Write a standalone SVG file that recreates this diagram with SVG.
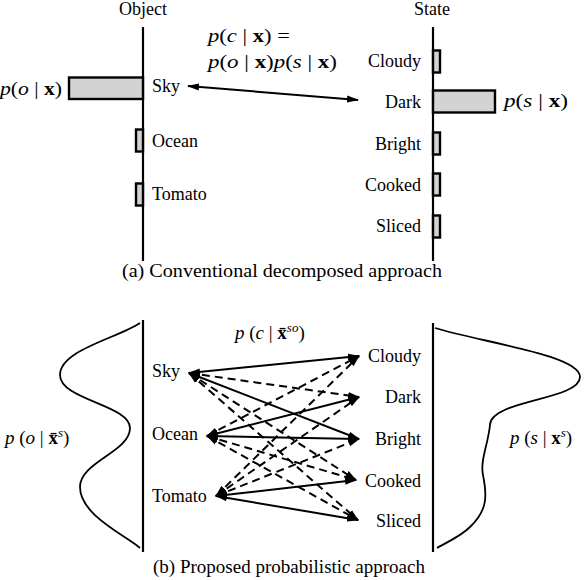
<svg xmlns="http://www.w3.org/2000/svg" width="584" height="580" viewBox="0 0 584 580">
<defs>
<marker id="ah" viewBox="0 0 12 8" refX="11" refY="4" markerWidth="12" markerHeight="8" markerUnits="userSpaceOnUse" orient="auto-start-reverse">
<path d="M0,0.5 L12,4 L0,7.5 z" fill="#000"/>
</marker>
</defs>
<rect width="584" height="580" fill="#fff"/>

<g id="a-axes">
<g stroke="#000" stroke-width="2.2" fill="none">
<line x1="143" y1="27" x2="143" y2="261"/>
<line x1="433" y1="27" x2="433" y2="261"/>
</g>
<text style="font-family:'Liberation Serif',serif !important;font-size:18px" x="143" y="15" text-anchor="middle">Object</text>
<text style="font-family:'Liberation Serif',serif !important;font-size:18px" x="432" y="15" text-anchor="middle">State</text>
</g>
<g id="a-bars" fill="#d3d3d3" stroke="#000" stroke-width="2.4">
<rect x="69" y="77.5" width="74" height="21.5"/>
<rect x="136" y="129.5" width="7" height="22"/>
<rect x="136" y="183.5" width="7" height="22"/>
<rect x="433" y="50.5" width="7" height="22"/>
<rect x="433" y="90.5" width="62" height="22"/>
<rect x="433" y="132.5" width="7" height="22"/>
<rect x="433" y="173.5" width="7" height="22"/>
<rect x="433" y="215.5" width="7" height="22"/>
</g>
<g id="a-sky"><text style="font-family:'Liberation Serif',serif !important;font-size:18px" x="152" y="92">Sky</text></g>
<g id="a-ocean"><text style="font-family:'Liberation Serif',serif !important;font-size:18px" x="152" y="147">Ocean</text></g>
<g id="a-tomato"><text style="font-family:'Liberation Serif',serif !important;font-size:18px" x="152" y="200">Tomato</text></g>
<g id="a-cloudy"><text style="font-family:'Liberation Serif',serif !important;font-size:18px" x="421" y="67" text-anchor="end">Cloudy</text></g>
<g id="a-dark"><text style="font-family:'Liberation Serif',serif !important;font-size:18px" x="421" y="108" text-anchor="end">Dark</text></g>
<g id="a-bright"><text style="font-family:'Liberation Serif',serif !important;font-size:18px" x="421" y="150" text-anchor="end">Bright</text></g>
<g id="a-cooked"><text style="font-family:'Liberation Serif',serif !important;font-size:18px" x="421" y="191" text-anchor="end">Cooked</text></g>
<g id="a-sliced"><text style="font-family:'Liberation Serif',serif !important;font-size:18px" x="421" y="232" text-anchor="end">Sliced</text></g>
<g id="a-math">
<text style="font-family:'Liberation Serif',serif !important;font-size:19px" x="0" y="95" textLength="62" lengthAdjust="spacingAndGlyphs"><tspan font-style="italic">p</tspan>(<tspan font-style="italic">o</tspan> | <tspan font-weight="bold">x</tspan>)</text>
<text style="font-family:'Liberation Serif',serif !important;font-size:19px" x="504" y="107" textLength="64" lengthAdjust="spacingAndGlyphs"><tspan font-style="italic">p</tspan>(<tspan font-style="italic">s</tspan> | <tspan font-weight="bold">x</tspan>)</text>
<text style="font-family:'Liberation Serif',serif !important;font-size:19px" x="208" y="42" textLength="82" lengthAdjust="spacingAndGlyphs"><tspan font-style="italic">p</tspan>(<tspan font-style="italic">c</tspan> | <tspan font-weight="bold">x</tspan>) =</text>
<text style="font-family:'Liberation Serif',serif !important;font-size:19px" x="208" y="68" textLength="129" lengthAdjust="spacingAndGlyphs"><tspan font-style="italic">p</tspan>(<tspan font-style="italic">o</tspan> | <tspan font-weight="bold">x</tspan>)<tspan font-style="italic">p</tspan>(<tspan font-style="italic">s</tspan> | <tspan font-weight="bold">x</tspan>)</text>
</g>
<g id="a-connectors" stroke="#000" stroke-width="2" fill="none">
<line x1="188" y1="86" x2="358" y2="100" marker-start="url(#ah)" marker-end="url(#ah)"/>
</g>
<text style="font-family:'Liberation Serif',serif !important;font-size:19px" x="282" y="277" text-anchor="middle" textLength="320" lengthAdjust="spacingAndGlyphs">(a) Conventional decomposed approach</text>

<g id="b-axes" stroke="#000" fill="none">
<line stroke-width="2.2" x1="143" y1="320" x2="143" y2="552"/>
<line stroke-width="2.2" x1="433" y1="323" x2="433" y2="552"/>
<path stroke-width="1.8" d="M140,323 C118,338 60,350 60,375 C60,400 130,405 130,428 C130,452 80,462 80,487 C80,515 125,535 140,548"/>
<path stroke-width="1.8" d="M435,328 C480,342 580,355 580,377 C580,400 490,400 490,425 C488,445 480,460 483,475 C487,495 488,510 470,527 C460,537 445,543 437,548"/>
</g>
<g id="b-sky"><text style="font-family:'Liberation Serif',serif !important;font-size:18px" x="152" y="377">Sky</text></g>
<g id="b-ocean"><text style="font-family:'Liberation Serif',serif !important;font-size:18px" x="152" y="440">Ocean</text></g>
<g id="b-tomato"><text style="font-family:'Liberation Serif',serif !important;font-size:18px" x="152" y="502">Tomato</text></g>
<g id="b-cloudy"><text style="font-family:'Liberation Serif',serif !important;font-size:18px" x="421" y="362" text-anchor="end">Cloudy</text></g>
<g id="b-dark"><text style="font-family:'Liberation Serif',serif !important;font-size:18px" x="421" y="403" text-anchor="end">Dark</text></g>
<g id="b-bright"><text style="font-family:'Liberation Serif',serif !important;font-size:18px" x="421" y="445" text-anchor="end">Bright</text></g>
<g id="b-cooked"><text style="font-family:'Liberation Serif',serif !important;font-size:18px" x="421" y="487" text-anchor="end">Cooked</text></g>
<g id="b-sliced"><text style="font-family:'Liberation Serif',serif !important;font-size:18px" x="421" y="527" text-anchor="end">Sliced</text></g>
<g id="b-math">
<text style="font-family:'Liberation Serif',serif !important;font-size:19px" x="235" y="339"><tspan font-style="italic">p</tspan> (<tspan font-style="italic">c</tspan> | <tspan font-weight="bold">x̄</tspan><tspan font-style="italic" font-size="13" dy="-7">so</tspan><tspan dy="7">)</tspan></text>
<text style="font-family:'Liberation Serif',serif !important;font-size:19px" x="5" y="444"><tspan font-style="italic">p</tspan> (<tspan font-style="italic">o</tspan> | <tspan font-weight="bold">x̄</tspan><tspan font-style="italic" font-size="13" dy="-7">s</tspan><tspan dy="7">)</tspan></text>
<text style="font-family:'Liberation Serif',serif !important;font-size:19px" x="510" y="444"><tspan font-style="italic">p</tspan> (<tspan font-style="italic">s</tspan> | <tspan font-weight="bold">x</tspan><tspan font-style="italic" font-size="13" dy="-7">s</tspan><tspan dy="7">)</tspan></text>
</g>
<g id="b-connectors" stroke="#000" stroke-width="2" fill="none">
<line x1="189" y1="373" x2="359" y2="356" marker-start="url(#ah)" marker-end="url(#ah)"/>
<line stroke-dasharray="8 5" x1="189" y1="373" x2="359" y2="397" marker-start="url(#ah)" marker-end="url(#ah)"/>
<line x1="189" y1="373" x2="359" y2="439" marker-start="url(#ah)" marker-end="url(#ah)"/>
<line stroke-dasharray="8 5" x1="189" y1="373" x2="356" y2="480" marker-start="url(#ah)" marker-end="url(#ah)"/>
<line stroke-dasharray="8 5" x1="189" y1="373" x2="358" y2="520" marker-start="url(#ah)" marker-end="url(#ah)"/>
<line stroke-dasharray="8 5" x1="207" y1="436" x2="359" y2="356" marker-start="url(#ah)" marker-end="url(#ah)"/>
<line x1="207" y1="436" x2="359" y2="397" marker-start="url(#ah)" marker-end="url(#ah)"/>
<line x1="207" y1="436" x2="359" y2="439" marker-start="url(#ah)" marker-end="url(#ah)"/>
<line stroke-dasharray="8 5" x1="207" y1="436" x2="356" y2="480" marker-start="url(#ah)" marker-end="url(#ah)"/>
<line stroke-dasharray="8 5" x1="207" y1="436" x2="358" y2="520" marker-start="url(#ah)" marker-end="url(#ah)"/>
<line stroke-dasharray="8 5" x1="216" y1="496" x2="359" y2="356" marker-start="url(#ah)" marker-end="url(#ah)"/>
<line stroke-dasharray="8 5" x1="216" y1="496" x2="359" y2="397" marker-start="url(#ah)" marker-end="url(#ah)"/>
<line stroke-dasharray="8 5" x1="216" y1="496" x2="359" y2="439" marker-start="url(#ah)" marker-end="url(#ah)"/>
<line x1="216" y1="496" x2="356" y2="480" marker-start="url(#ah)" marker-end="url(#ah)"/>
<line x1="216" y1="496" x2="358" y2="520" marker-start="url(#ah)" marker-end="url(#ah)"/>
</g>
<text style="font-family:'Liberation Serif',serif !important;font-size:19px" x="289" y="573" text-anchor="middle" textLength="272" lengthAdjust="spacingAndGlyphs">(b) Proposed probabilistic approach</text>
</svg>
